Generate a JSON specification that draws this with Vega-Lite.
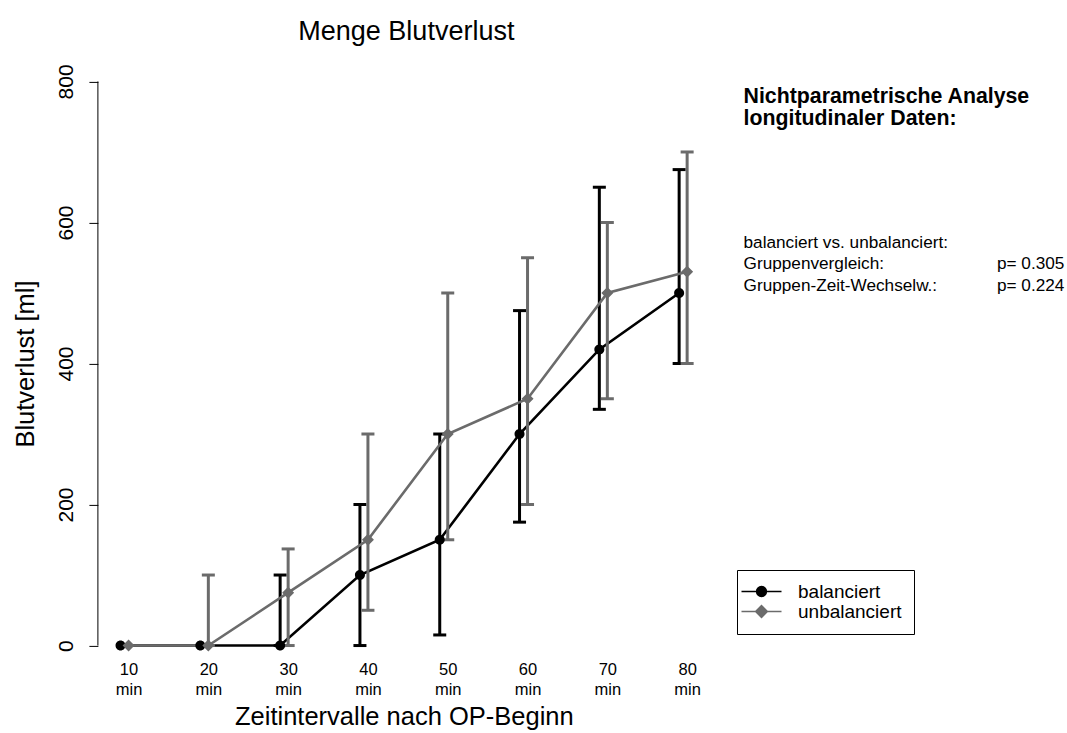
{
  "$schema": "https://vega.github.io/schema/vega-lite/v6.json",
  "width": 611.9,
  "height": 609.2,
  "autosize": {"type": "none"},
  "padding": {"left": 97.9, "top": 58.9, "right": 357.2, "bottom": 64.9},
  "background": "white",
  "config": {
    "view": {"stroke": null},
    "font": "Liberation Sans"
  },
  "title": {
    "text": "Menge Blutverlust",
    "font": "Liberation Sans",
    "fontSize": 27,
    "fontWeight": "normal",
    "color": "black",
    "anchor": "middle",
    "frame": "group",
    "baseline": "alphabetic",
    "offset": -7.7,
    "dx": 2.5
  },
  "data": {
    "values": [
      {"m": 10, "g": "balanciert", "v": 0, "lo": null, "hi": null},
      {"m": 20, "g": "balanciert", "v": 0, "lo": null, "hi": null},
      {"m": 30, "g": "balanciert", "v": 0, "lo": 0, "hi": 100},
      {"m": 40, "g": "balanciert", "v": 100, "lo": 0, "hi": 200},
      {"m": 50, "g": "balanciert", "v": 150, "lo": 15, "hi": 300},
      {"m": 60, "g": "balanciert", "v": 300, "lo": 175, "hi": 475},
      {"m": 70, "g": "balanciert", "v": 420, "lo": 335, "hi": 650},
      {"m": 80, "g": "balanciert", "v": 500, "lo": 400, "hi": 675},
      {"m": 10, "g": "unbalanciert", "v": 0, "lo": null, "hi": null},
      {"m": 20, "g": "unbalanciert", "v": 0, "lo": 0, "hi": 100},
      {"m": 30, "g": "unbalanciert", "v": 75, "lo": 0, "hi": 137},
      {"m": 40, "g": "unbalanciert", "v": 150, "lo": 50, "hi": 300},
      {"m": 50, "g": "unbalanciert", "v": 300, "lo": 150, "hi": 500},
      {"m": 60, "g": "unbalanciert", "v": 350, "lo": 200, "hi": 550},
      {"m": 70, "g": "unbalanciert", "v": 500, "lo": 350, "hi": 600},
      {"m": 80, "g": "unbalanciert", "v": 530, "lo": 400, "hi": 700}
    ]
  },
  "layer": [
    {
      "transform": [{"filter": "datum.g === 'balanciert'"}],
      "mark": {"type": "line", "strokeWidth": 2.6, "xOffset": -8},
      "encoding": {
        "x": {
          "field": "m", "type": "quantitative",
          "scale": {"domain": [6.16, 82.84], "nice": false, "zero": false},
          "axis": {
            "values": [10, 20, 30, 40, 50, 60, 70, 80],
            "labelExpr": "[datum.label, 'min']",
            "domain": false, "ticks": false, "tickSize": 0, "grid": false,
            "labelFont": "Liberation Sans", "labelFontSize": 16.5, "labelColor": "black",
            "labelLineHeight": 20, "labelPadding": -7, "labelBaseline": "top",
            "labelFlush": false, "labelOverlap": false,
            "title": "Zeitintervalle nach OP-Beginn",
            "titleFont": "Liberation Sans", "titleFontSize": 25.5, "titleFontWeight": "normal",
            "titleColor": "black", "titlePadding": 7
          }
        },
        "y": {
          "field": "v", "type": "quantitative",
          "scale": {"domain": [-32, 832], "nice": false, "zero": false},
          "axis": {
            "values": [0, 200, 400, 600, 800],
            "domain": false, "grid": false,
            "tickSize": 9, "tickColor": "black", "tickWidth": 1,
            "labelAngle": 270, "labelAlign": "center", "labelBaseline": "alphabetic",
            "labelPadding": 16, "labelFont": "Liberation Sans", "labelFontSize": 21,
            "labelColor": "black", "labelFlush": false, "labelOverlap": false,
            "title": "Blutverlust [ml]",
            "titleFont": "Liberation Sans", "titleFontSize": 25.5, "titleFontWeight": "normal",
            "titleColor": "black", "titlePadding": 17.5
          }
        },
        "color": {"field": "g", "type": "nominal", "scale": {"domain": ["balanciert", "unbalanciert"], "range": ["#000000", "#6b6b6b"]}}
      }
    },
    {
      "transform": [{"filter": "datum.g === 'balanciert'"}],
      "mark": {"type": "rule", "strokeWidth": 3, "xOffset": -8},
      "encoding": {
        "x": {"field": "m", "type": "quantitative"},
        "y": {"field": "lo", "type": "quantitative"},
        "y2": {"field": "hi"},
        "color": {"field": "g", "type": "nominal"}
      }
    },
    {
      "transform": [{"filter": "datum.g === 'balanciert'"}],
      "mark": {"type": "tick", "orient": "horizontal", "size": 13, "thickness": 3, "opacity": 1, "xOffset": -8},
      "encoding": {
        "x": {"field": "m", "type": "quantitative"},
        "y": {"field": "lo", "type": "quantitative"},
        "color": {"field": "g", "type": "nominal"}
      }
    },
    {
      "transform": [{"filter": "datum.g === 'balanciert'"}],
      "mark": {"type": "tick", "orient": "horizontal", "size": 13, "thickness": 3, "opacity": 1, "xOffset": -8},
      "encoding": {
        "x": {"field": "m", "type": "quantitative"},
        "y": {"field": "hi", "type": "quantitative"},
        "color": {"field": "g", "type": "nominal"}
      }
    },
    {
      "transform": [{"filter": "datum.g === 'unbalanciert'"}],
      "mark": {"type": "rule", "strokeWidth": 3},
      "encoding": {
        "x": {"field": "m", "type": "quantitative"},
        "y": {"field": "lo", "type": "quantitative"},
        "y2": {"field": "hi"},
        "color": {"field": "g", "type": "nominal"}
      }
    },
    {
      "transform": [{"filter": "datum.g === 'unbalanciert'"}],
      "mark": {"type": "tick", "orient": "horizontal", "size": 13, "thickness": 3, "opacity": 1},
      "encoding": {
        "x": {"field": "m", "type": "quantitative"},
        "y": {"field": "lo", "type": "quantitative"},
        "color": {"field": "g", "type": "nominal"}
      }
    },
    {
      "transform": [{"filter": "datum.g === 'unbalanciert'"}],
      "mark": {"type": "tick", "orient": "horizontal", "size": 13, "thickness": 3, "opacity": 1},
      "encoding": {
        "x": {"field": "m", "type": "quantitative"},
        "y": {"field": "hi", "type": "quantitative"},
        "color": {"field": "g", "type": "nominal"}
      }
    },
    {
      "transform": [{"filter": "datum.g === 'unbalanciert'"}],
      "mark": {"type": "line", "strokeWidth": 2.6},
      "encoding": {
        "x": {"field": "m", "type": "quantitative"},
        "y": {"field": "v", "type": "quantitative"},
        "color": {"field": "g", "type": "nominal"}
      }
    },
    {
      "transform": [{"filter": "datum.g === 'balanciert'"}],
      "mark": {"type": "point", "filled": true, "opacity": 1, "size": 256, "xOffset": -8},
      "encoding": {
        "x": {"field": "m", "type": "quantitative"},
        "y": {"field": "v", "type": "quantitative"},
        "color": {
          "field": "g", "type": "nominal",
          "legend": {
            "title": null, "orient": "none", "legendX": 639.1, "legendY": 511.1,
            "strokeColor": "black", "padding": 12, "symbolSize": 256,
            "symbolOffset": 3, "labelOffset": 27, "rowPadding": 0,
            "labelFont": "Liberation Sans", "labelFontSize": 19, "labelColor": "black",
            "symbolStrokeColor": "black", "symbolStrokeWidth": 1.3,
            "encode": {"symbols": {"stroke": {"value": "black"}, "strokeWidth": {"value": 1.3}}}
          }
        },
        "shape": {
          "field": "g", "type": "nominal",
          "scale": {
            "domain": ["balanciert", "unbalanciert"],
            "range": [
              "M-2.5,0L2.5,0M0.625,0A0.625,0.625,0,1,1,-0.625,0A0.625,0.625,0,1,1,0.625,0Z",
              "M-2.5,0L2.5,0M0,-0.75L0.75,0L0,0.75L-0.75,0Z"
            ]
          },
          "legend": {
            "title": null, "orient": "none", "legendX": 639.1, "legendY": 511.1,
            "strokeColor": "black", "padding": 12, "symbolSize": 256,
            "symbolOffset": 3, "labelOffset": 27, "rowPadding": 0,
            "labelFont": "Liberation Sans", "labelFontSize": 19, "labelColor": "black",
            "symbolStrokeColor": "black", "symbolStrokeWidth": 1.3,
            "encode": {"symbols": {"stroke": {"value": "black"}, "strokeWidth": {"value": 1.3}}}
          }
        }
      }
    },
    {
      "transform": [{"filter": "datum.g === 'unbalanciert'"}],
      "mark": {"type": "point", "filled": true, "opacity": 1, "size": 256},
      "encoding": {
        "x": {"field": "m", "type": "quantitative"},
        "y": {"field": "v", "type": "quantitative"},
        "color": {"field": "g", "type": "nominal"},
        "shape": {"field": "g", "type": "nominal"}
      }
    },
    {
      "data": {"values": [{"t": ["Nichtparametrische Analyse", "longitudinaler Daten:"]}]},
      "mark": {"type": "text", "align": "left", "baseline": "middle", "fontSize": 21.3, "fontWeight": "bold", "color": "black", "lineHeight": 22},
      "encoding": {
        "x": {"datum": 87.07, "type": "quantitative"},
        "y": {"datum": 777.5, "type": "quantitative"},
        "text": {"field": "t"}
      }
    },
    {
      "data": {"values": [{"t": ["balanciert vs. unbalanciert:", "Gruppenvergleich:", "Gruppen-Zeit-Wechselw.:"]}]},
      "mark": {"type": "text", "align": "left", "baseline": "middle", "fontSize": 17.2, "color": "black", "lineHeight": 21.5},
      "encoding": {
        "x": {"datum": 87.07, "type": "quantitative"},
        "y": {"datum": 571.5, "type": "quantitative"},
        "text": {"field": "t"}
      }
    },
    {
      "data": {"values": [{"t": ["p= 0.305", "p= 0.224"]}]},
      "mark": {"type": "text", "align": "left", "baseline": "middle", "fontSize": 17.2, "color": "black", "lineHeight": 21.5},
      "encoding": {
        "x": {"datum": 118.83, "type": "quantitative"},
        "y": {"datum": 541, "type": "quantitative"},
        "text": {"field": "t"}
      }
    },
    {
      "data": {"values": [{}]},
      "mark": {"type": "rule", "color": "black", "strokeWidth": 1},
      "encoding": {
        "x": {"datum": 6.16, "type": "quantitative"},
        "y": {"datum": 0, "type": "quantitative"},
        "y2": {"datum": 800}
      }
    }
  ]
}
